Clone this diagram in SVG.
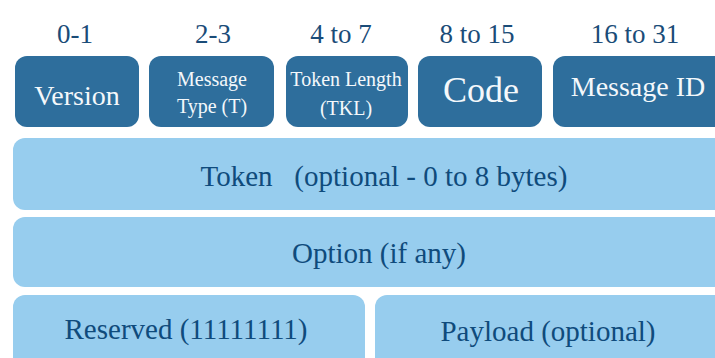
<svg xmlns="http://www.w3.org/2000/svg" width="715" height="358" viewBox="0 0 715 358">
<style>
.dark{fill:#2e6e9c}
.light{fill:#97cdee}
.lbl{fill:#1a4c78;font-size:27px}
.wt{fill:#f4f8fb}
.dt{fill:#0f4b7c;font-size:29px}
</style>
<rect width="715" height="358" fill="#ffffff"/>
<g font-family="'Liberation Serif', 'Times New Roman', serif" text-anchor="middle">
<g id="labels">
<text class="lbl" x="75" y="43">0-1</text>
<text class="lbl" x="213" y="43">2-3</text>
<text class="lbl" x="341" y="43">4 to 7</text>
<text class="lbl" x="477" y="43">8 to 15</text>
<text class="lbl" x="635" y="43">16 to 31</text>
</g>
<g id="version"><rect class="dark" x="15" y="56" width="124" height="71" rx="12"/><text class="wt" x="77" y="105" font-size="28">Version</text></g>
<g id="msgtype"><rect class="dark" x="149" y="56" width="125" height="71" rx="12"/><text class="wt" x="212" y="86" font-size="20">Message</text><text class="wt" x="212" y="113" font-size="20">Type (T)</text></g>
<g id="tkl"><rect class="dark" x="286" y="56" width="122" height="71" rx="12"/><text class="wt" x="346" y="86" font-size="20">Token Length</text><text class="wt" x="346" y="115" font-size="20">(TKL)</text></g>
<g id="code"><rect class="dark" x="418" y="56" width="124" height="71" rx="12"/><text class="wt" x="481" y="102" font-size="36">Code</text></g>
<g id="msgid"><rect class="dark" x="553" y="56" width="175" height="71" rx="12"/><text class="wt" x="638" y="96" font-size="28">Message ID</text></g>
<g id="token"><rect class="light" x="13" y="138" width="715" height="72" rx="12"/><text class="dt" x="384" y="186" xml:space="preserve">Token   (optional - 0 to 8 bytes)</text></g>
<g id="option"><rect class="light" x="13" y="217" width="715" height="70" rx="12"/><text class="dt" x="379" y="263">Option (if any)</text></g>
<g id="reserved"><rect class="light" x="13" y="295" width="352" height="80" rx="12"/><text class="dt" x="186" y="339">Reserved (11111111)</text></g>
<g id="payload"><rect class="light" x="375" y="295" width="353" height="80" rx="12"/><text class="dt" x="548" y="341">Payload (optional)</text></g>
</g>
<g id="connectors"></g>
</svg>
